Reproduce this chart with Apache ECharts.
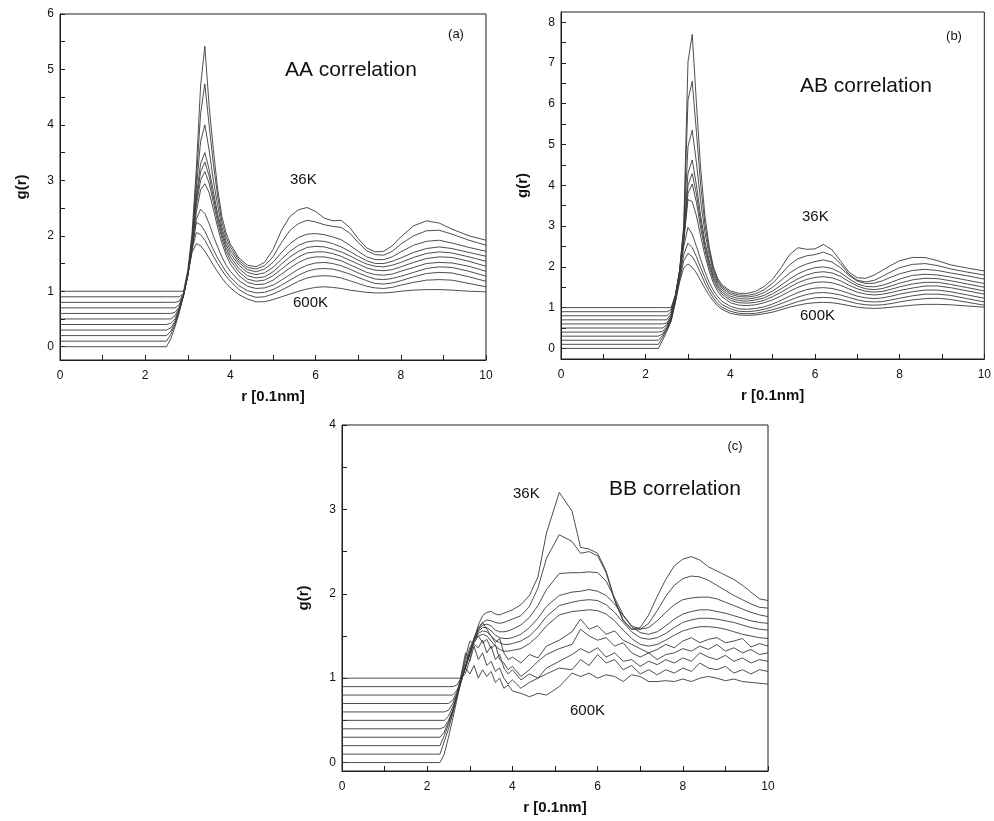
<!DOCTYPE html>
<html>
<head>
<meta charset="utf-8">
<title>Pair correlation functions g(r)</title>
<script src="https://cdn.jsdelivr.net/npm/echarts/dist/echarts.min.js"></script>
<style>
  html, body { margin: 0; padding: 0; background: #fff; }
  #chart { width: 994px; height: 821px; }
</style>
</head>
<body>
<div id="chart"></div>
<script>
// ---- shared tick values ----
const xTickValues = [0, 1, 2, 3, 4, 5, 6, 7, 8, 9, 10];
const xLabelValues = [0, 2, 4, 6, 8, 10];
const aaYTicks = [0, 0.5, 1, 1.5, 2, 2.5, 3, 3.5, 4, 4.5, 5, 5.5, 6];
const aaYLabels = [0, 1, 2, 3, 4, 5, 6];
const abYTicks = [0, 0.5, 1, 1.5, 2, 2.5, 3, 3.5, 4, 4.5, 5, 5.5, 6, 6.5, 7, 7.5, 8];
const abYLabels = [0, 1, 2, 3, 4, 5, 6, 7, 8];
const bbYTicks = [0, 0.5, 1, 1.5, 2, 2.5, 3, 3.5, 4];
const bbYLabels = [0, 1, 2, 3, 4];

// ---- (a) AA correlation: r grid and g(r) curves, 36K (top) ... 600K (bottom), each shifted by 0.1 ----
const aaR = [0, 2.5, 2.6, 2.7, 2.8, 2.9, 3.0, 3.1, 3.2, 3.3, 3.4, 3.5, 3.6, 3.7, 3.8, 3.9, 4.0,
  4.2, 4.4, 4.6, 4.8, 5.0, 5.2, 5.4, 5.6, 5.8, 6.0, 6.2, 6.4, 6.6, 6.8, 7.0, 7.2, 7.4, 7.6, 7.8, 8.0,
  8.3, 8.6, 8.9, 9.2, 9.6, 10.0];
const aa01 = [1.0, 1.0, 1.0, 1.0, 1.0, 1.0, 1.38, 2.05, 3.2, 4.7, 5.42, 4.35, 3.55, 2.85, 2.35, 2.05, 1.85,
  1.6, 1.47, 1.44, 1.52, 1.75, 2.1, 2.35, 2.47, 2.51, 2.44, 2.32, 2.27, 2.28, 2.15, 1.95, 1.78, 1.71, 1.72, 1.82, 1.98,
  2.18, 2.27, 2.23, 2.12, 2.0, 1.92];
const aa02 = [0.9, 0.9, 0.9, 0.9, 0.9, 0.96, 1.32, 1.95, 3.0, 4.2, 4.74, 4.0, 3.3, 2.72, 2.25, 1.97, 1.8,
  1.56, 1.43, 1.40, 1.46, 1.62, 1.88, 2.1, 2.22, 2.28, 2.25, 2.2, 2.17, 2.15, 2.05, 1.88, 1.73, 1.66, 1.65, 1.72, 1.85,
  2.0, 2.09, 2.1, 2.03, 1.92, 1.83];
const aa03 = [0.8, 0.8, 0.8, 0.8, 0.82, 0.96, 1.3, 1.9, 2.85, 3.7, 4.0, 3.55, 3.0, 2.55, 2.15, 1.9, 1.74,
  1.52, 1.39, 1.35, 1.4, 1.52, 1.7, 1.86, 1.97, 2.03, 2.04, 2.02, 1.98, 1.93, 1.83, 1.72, 1.62, 1.57, 1.57, 1.62, 1.71,
  1.83, 1.9, 1.92, 1.87, 1.79, 1.72];
const aa04 = [0.7, 0.7, 0.7, 0.7, 0.76, 0.95, 1.3, 1.88, 2.7, 3.3, 3.5, 3.2, 2.8, 2.4, 2.08, 1.84, 1.68,
  1.47, 1.34, 1.30, 1.33, 1.43, 1.58, 1.72, 1.83, 1.89, 1.91, 1.9, 1.86, 1.8, 1.72, 1.63, 1.55, 1.5, 1.5, 1.54, 1.6,
  1.7, 1.77, 1.8, 1.77, 1.7, 1.63];
const aa05 = [0.6, 0.6, 0.6, 0.62, 0.72, 0.94, 1.3, 1.88, 2.62, 3.15, 3.33, 3.08, 2.7, 2.33, 2.02, 1.78, 1.62,
  1.41, 1.28, 1.24, 1.26, 1.35, 1.49, 1.62, 1.72, 1.79, 1.81, 1.8, 1.76, 1.71, 1.64, 1.56, 1.49, 1.45, 1.44, 1.47, 1.52,
  1.61, 1.68, 1.71, 1.69, 1.62, 1.54];
const aa06 = [0.5, 0.5, 0.5, 0.56, 0.7, 0.93, 1.3, 1.86, 2.55, 3.0, 3.16, 2.95, 2.6, 2.25, 1.95, 1.72, 1.56,
  1.35, 1.22, 1.18, 1.2, 1.28, 1.4, 1.52, 1.62, 1.69, 1.71, 1.71, 1.68, 1.63, 1.56, 1.49, 1.42, 1.38, 1.37, 1.39, 1.44,
  1.52, 1.59, 1.62, 1.61, 1.54, 1.45];
const aa07 = [0.4, 0.4, 0.42, 0.5, 0.68, 0.92, 1.28, 1.82, 2.42, 2.83, 2.94, 2.78, 2.48, 2.15, 1.87, 1.65, 1.49,
  1.28, 1.16, 1.12, 1.13, 1.2, 1.31, 1.42, 1.52, 1.59, 1.62, 1.62, 1.59, 1.55, 1.48, 1.41, 1.34, 1.3, 1.29, 1.31, 1.36,
  1.43, 1.5, 1.52, 1.51, 1.45, 1.36];
const aa08 = [0.3, 0.3, 0.34, 0.46, 0.66, 0.92, 1.27, 1.75, 2.3, 2.48, 2.4, 2.22, 2.0, 1.8, 1.62, 1.47, 1.36,
  1.19, 1.09, 1.05, 1.06, 1.11, 1.2, 1.3, 1.4, 1.47, 1.51, 1.52, 1.5, 1.46, 1.4, 1.33, 1.27, 1.22, 1.21, 1.23, 1.27,
  1.34, 1.41, 1.44, 1.43, 1.36, 1.27];
const aa09 = [0.2, 0.2, 0.28, 0.43, 0.65, 0.93, 1.3, 1.78, 2.24, 2.2, 2.08, 1.92, 1.75, 1.6, 1.47, 1.35, 1.25,
  1.1, 1.01, 0.97, 0.98, 1.03, 1.11, 1.2, 1.29, 1.36, 1.4, 1.41, 1.4, 1.36, 1.31, 1.25, 1.19, 1.14, 1.13, 1.15, 1.19,
  1.26, 1.32, 1.34, 1.33, 1.26, 1.18];
const aa10 = [0.1, 0.1, 0.22, 0.4, 0.64, 0.94, 1.3, 1.75, 2.06, 2.02, 1.92, 1.78, 1.63, 1.5, 1.38, 1.27, 1.18,
  1.03, 0.94, 0.89, 0.9, 0.95, 1.02, 1.1, 1.18, 1.24, 1.27, 1.28, 1.27, 1.24, 1.19, 1.14, 1.09, 1.06, 1.05, 1.07, 1.11,
  1.16, 1.2, 1.21, 1.2, 1.14, 1.08];
const aa11 = [0, 0, 0.14, 0.36, 0.62, 0.94, 1.3, 1.7, 1.86, 1.82, 1.72, 1.6, 1.47, 1.35, 1.24, 1.14, 1.06,
  0.94, 0.86, 0.81, 0.81, 0.85, 0.9, 0.95, 1.0, 1.04, 1.07, 1.08, 1.07, 1.05, 1.02, 1.0, 0.98, 0.97, 0.97, 0.98, 1.0,
  1.02, 1.03, 1.03, 1.02, 1.0, 0.99];

// ---- (b) AB correlation ----
const abR = [0, 2.3, 2.4, 2.5, 2.6, 2.7, 2.8, 2.9, 3.0, 3.1, 3.2, 3.3, 3.4, 3.5, 3.6, 3.7, 3.8,
  4.0, 4.2, 4.4, 4.6, 4.8, 5.0, 5.2, 5.4, 5.6, 5.8, 6.0, 6.2, 6.4, 6.6, 6.8, 7.0, 7.2, 7.4, 7.6, 7.8, 8.0,
  8.3, 8.6, 8.9, 9.2, 9.6, 10.0];
const ab01 = [1.0, 1.0, 1.0, 1.0, 1.0, 1.3, 1.9, 3.0, 7.03, 7.7, 6.0, 4.4, 3.25, 2.5, 2.0, 1.72, 1.56,
  1.41, 1.35, 1.35, 1.4, 1.52, 1.7, 1.98, 2.3, 2.47, 2.43, 2.44, 2.55, 2.42, 2.15, 1.87, 1.73, 1.72, 1.8, 1.92, 2.04, 2.15,
  2.23, 2.23, 2.15, 2.05, 1.97, 1.90];
const ab02 = [0.9, 0.9, 0.9, 0.9, 0.95, 1.3, 1.9, 2.95, 6.09, 6.55, 5.3, 4.0, 3.05, 2.4, 1.95, 1.68, 1.52,
  1.37, 1.31, 1.3, 1.34, 1.44, 1.6, 1.82, 2.05, 2.2, 2.27, 2.3, 2.36, 2.28, 2.08, 1.82, 1.67, 1.63, 1.67, 1.77, 1.88, 1.98,
  2.06, 2.08, 2.03, 1.95, 1.87, 1.8];
const ab03 = [0.8, 0.8, 0.8, 0.8, 0.9, 1.28, 1.88, 2.85, 4.95, 5.35, 4.55, 3.6, 2.85, 2.3, 1.88, 1.63, 1.48,
  1.33, 1.27, 1.26, 1.29, 1.37, 1.5, 1.67, 1.85, 1.98, 2.07, 2.13, 2.17, 2.12, 1.98, 1.79, 1.65, 1.59, 1.6, 1.66, 1.75, 1.83,
  1.91, 1.94, 1.91, 1.85, 1.78, 1.70];
const ab04 = [0.7, 0.7, 0.7, 0.7, 0.85, 1.26, 1.86, 2.75, 4.3, 4.62, 4.0, 3.25, 2.62, 2.15, 1.8, 1.57, 1.43,
  1.28, 1.22, 1.21, 1.24, 1.3, 1.41, 1.55, 1.7, 1.83, 1.92, 1.98, 2.0, 1.96, 1.86, 1.71, 1.58, 1.52, 1.51, 1.55, 1.62, 1.7,
  1.79, 1.82, 1.8, 1.75, 1.67, 1.59];
const ab05 = [0.6, 0.6, 0.6, 0.62, 0.8, 1.24, 1.84, 2.7, 4.0, 4.29, 3.78, 3.1, 2.52, 2.08, 1.74, 1.52, 1.38,
  1.23, 1.17, 1.16, 1.19, 1.24, 1.34, 1.46, 1.59, 1.71, 1.8, 1.86, 1.88, 1.85, 1.77, 1.64, 1.53, 1.46, 1.44, 1.47, 1.53, 1.6,
  1.68, 1.72, 1.71, 1.66, 1.58, 1.5];
const ab06 = [0.5, 0.5, 0.5, 0.58, 0.77, 1.22, 1.82, 2.65, 3.8, 4.03, 3.58, 2.95, 2.42, 2.0, 1.68, 1.47, 1.33,
  1.18, 1.12, 1.11, 1.13, 1.18, 1.27, 1.38, 1.5, 1.61, 1.69, 1.74, 1.76, 1.73, 1.66, 1.55, 1.46, 1.4, 1.38, 1.4, 1.45, 1.51,
  1.58, 1.62, 1.62, 1.57, 1.49, 1.41];
const ab07 = [0.4, 0.4, 0.42, 0.54, 0.75, 1.2, 1.8, 2.62, 3.65, 3.6, 3.25, 2.75, 2.28, 1.9, 1.6, 1.4, 1.27,
  1.12, 1.06, 1.05, 1.07, 1.12, 1.19, 1.29, 1.4, 1.5, 1.57, 1.62, 1.63, 1.61, 1.55, 1.46, 1.38, 1.33, 1.31, 1.33, 1.37, 1.42,
  1.48, 1.53, 1.53, 1.49, 1.41, 1.33];
const ab08 = [0.3, 0.3, 0.36, 0.5, 0.72, 1.18, 1.77, 2.5, 2.97, 2.8, 2.5, 2.18, 1.88, 1.62, 1.42, 1.27, 1.16,
  1.03, 0.97, 0.96, 0.98, 1.02, 1.09, 1.18, 1.28, 1.37, 1.44, 1.48, 1.49, 1.47, 1.42, 1.35, 1.28, 1.24, 1.22, 1.24, 1.28, 1.33,
  1.39, 1.43, 1.43, 1.39, 1.31, 1.23];
const ab09 = [0.2, 0.2, 0.32, 0.48, 0.7, 1.16, 1.72, 2.3, 2.58, 2.47, 2.25, 1.98, 1.73, 1.5, 1.32, 1.18, 1.08,
  0.97, 0.91, 0.9, 0.92, 0.96, 1.02, 1.1, 1.18, 1.26, 1.32, 1.36, 1.37, 1.35, 1.31, 1.25, 1.19, 1.15, 1.14, 1.15, 1.19, 1.23,
  1.29, 1.33, 1.33, 1.3, 1.22, 1.14];
const ab10 = [0.1, 0.1, 0.27, 0.46, 0.68, 1.14, 1.68, 2.15, 2.33, 2.25, 2.07, 1.84, 1.6, 1.4, 1.23, 1.1, 1.01,
  0.91, 0.86, 0.85, 0.86, 0.9, 0.95, 1.01, 1.08, 1.15, 1.2, 1.24, 1.25, 1.24, 1.2, 1.15, 1.1, 1.07, 1.06, 1.07, 1.1, 1.14,
  1.19, 1.22, 1.23, 1.2, 1.13, 1.06];
const ab11 = [0, 0, 0.2, 0.42, 0.66, 1.12, 1.62, 1.98, 2.07, 1.99, 1.85, 1.66, 1.47, 1.3, 1.16, 1.04, 0.96,
  0.86, 0.82, 0.81, 0.82, 0.85, 0.89, 0.95, 1.01, 1.06, 1.1, 1.12, 1.13, 1.12, 1.09, 1.05, 1.01, 0.99, 0.98, 0.99, 1.01, 1.03,
  1.06, 1.08, 1.08, 1.07, 1.04, 1.01];

// ---- (c) BB correlation ----
const bbR = [0, 2.3, 2.4, 2.5, 2.6, 2.7, 2.8, 2.9, 3.0, 3.1, 3.2, 3.3, 3.4, 3.5, 3.6, 3.7, 3.8, 3.9, 4.0,
  4.2, 4.4, 4.6, 4.8, 5.1, 5.4, 5.6, 5.8, 6.0,
  6.2, 6.4, 6.6, 6.8, 7.0, 7.2, 7.4, 7.6, 7.8, 8.0, 8.2, 8.4, 8.6, 8.8, 9.0, 9.2, 9.4, 9.6, 9.8, 10.0];
const bb01 = [1.0, 1.0, 1.0, 1.0, 1.0, 1.0, 1.0, 1.06, 1.22, 1.45, 1.63, 1.74, 1.78, 1.79, 1.76, 1.75, 1.77, 1.79, 1.81,
  1.87, 1.98, 2.2, 2.72, 3.2, 2.98, 2.55, 2.53, 2.48,
  2.27, 1.93, 1.69, 1.58, 1.6, 1.75, 1.97, 2.17, 2.33, 2.41, 2.44, 2.4, 2.32, 2.27, 2.22, 2.17, 2.1, 2.02, 1.94, 1.92];
const bb02 = [0.9, 0.9, 0.9, 0.9, 0.9, 0.92, 1.0, 1.12, 1.28, 1.45, 1.58, 1.66, 1.69, 1.68, 1.66, 1.65, 1.66, 1.68, 1.7,
  1.74, 1.85, 2.07, 2.42, 2.7, 2.62, 2.48, 2.5, 2.45,
  2.25, 1.92, 1.68, 1.58, 1.58, 1.65, 1.8, 1.97, 2.1, 2.18, 2.21, 2.2, 2.16, 2.1, 2.04, 1.98, 1.93, 1.88, 1.84, 1.83];
const bb03 = [0.8, 0.8, 0.8, 0.8, 0.8, 0.86, 0.98, 1.13, 1.3, 1.46, 1.57, 1.63, 1.64, 1.62, 1.57, 1.55, 1.55, 1.56, 1.58,
  1.63, 1.72, 1.86, 2.05, 2.24, 2.25, 2.25, 2.26, 2.25,
  2.15, 1.95, 1.75, 1.62, 1.58, 1.6, 1.68, 1.78, 1.87, 1.93, 1.95, 1.96, 1.96, 1.94, 1.9, 1.86, 1.82, 1.78, 1.75, 1.73];
const bb04 = [0.7, 0.7, 0.7, 0.7, 0.74, 0.84, 0.97, 1.13, 1.3, 1.45, 1.55, 1.6, 1.6, 1.56, 1.51, 1.48, 1.47, 1.47, 1.48,
  1.52, 1.6, 1.71, 1.85, 1.98, 2.02, 2.03, 2.05, 2.03,
  1.98, 1.88, 1.74, 1.61, 1.54, 1.52, 1.55, 1.62, 1.7, 1.76, 1.79, 1.81, 1.81, 1.79, 1.77, 1.74, 1.71, 1.68, 1.66, 1.65];
const bb05 = [0.6, 0.6, 0.6, 0.62, 0.7, 0.82, 0.97, 1.13, 1.3, 1.44, 1.53, 1.56, 1.55, 1.5, 1.45, 1.42, 1.4, 1.4, 1.41,
  1.44, 1.5, 1.6, 1.73, 1.86, 1.9, 1.92, 1.93, 1.92,
  1.87, 1.78, 1.66, 1.55, 1.48, 1.46, 1.48, 1.53, 1.6, 1.66, 1.69, 1.71, 1.71, 1.7, 1.68, 1.66, 1.63, 1.6, 1.58, 1.57];
const bb06 = [0.5, 0.5, 0.5, 0.55, 0.66, 0.8, 0.97, 1.14, 1.3, 1.42, 1.5, 1.52, 1.5, 1.44, 1.38, 1.34, 1.32, 1.32, 1.33,
  1.35, 1.41, 1.5, 1.62, 1.75, 1.79, 1.8, 1.81, 1.8,
  1.76, 1.68, 1.57, 1.47, 1.4, 1.38, 1.4, 1.45, 1.51, 1.56, 1.59, 1.61, 1.61, 1.6, 1.58, 1.55, 1.52, 1.5, 1.48, 1.47];
const bb07 = [0.4, 0.4, 0.42, 0.5, 0.62, 0.78, 0.96, 1.15, 1.32, 1.48, 1.6, 1.66, 1.58, 1.5, 1.42, 1.47, 1.3, 1.22, 1.25,
  1.18, 1.28, 1.24, 1.38, 1.45, 1.55, 1.7, 1.58, 1.62,
  1.52, 1.56, 1.45, 1.4, 1.35, 1.3, 1.34, 1.4, 1.36, 1.44, 1.48, 1.42, 1.46, 1.48, 1.42, 1.44, 1.47, 1.37, 1.41, 1.38];
const bb08 = [0.3, 0.3, 0.36, 0.48, 0.62, 0.8, 1.0, 1.2, 1.36, 1.45, 1.5, 1.42, 1.46, 1.35, 1.4, 1.22, 1.18, 1.1, 1.14,
  1.02, 1.1, 1.2, 1.28, 1.35, 1.4, 1.58, 1.5, 1.45,
  1.48, 1.38, 1.42, 1.3, 1.25, 1.3, 1.22, 1.28, 1.3, 1.35, 1.32, 1.38, 1.34, 1.4, 1.32, 1.36, 1.3, 1.34, 1.28, 1.3];
const bb09 = [0.2, 0.2, 0.32, 0.45, 0.6, 0.8, 1.02, 1.25, 1.44, 1.4, 1.36, 1.45, 1.3, 1.38, 1.22, 1.28, 1.12, 1.05, 1.1,
  0.98, 1.05, 1.0, 1.12, 1.2, 1.28, 1.35, 1.3, 1.36,
  1.25, 1.3, 1.2, 1.22, 1.14, 1.2, 1.16, 1.22, 1.18, 1.24, 1.2, 1.3, 1.25, 1.22, 1.27, 1.2, 1.24, 1.18, 1.22, 1.2];
const bb10 = [0.1, 0.1, 0.25, 0.4, 0.58, 0.8, 1.05, 1.3, 1.2, 1.38, 1.22, 1.3, 1.15, 1.2, 1.08, 1.12, 1.0, 0.93, 0.98,
  0.88, 0.95, 1.0, 1.05, 1.12, 1.1, 1.22, 1.15, 1.28,
  1.18, 1.22, 1.1, 1.15, 1.05, 1.1, 1.04, 1.1, 1.06, 1.12, 1.08, 1.18, 1.12, 1.1, 1.14, 1.06, 1.1, 1.05, 1.1, 1.08];
const bb11 = [0, 0, 0.1, 0.3, 0.52, 0.75, 0.98, 1.12, 1.05, 1.15, 1.0, 1.1, 1.02, 1.08, 0.95, 1.0, 0.88, 0.92, 0.85,
  0.82, 0.78, 0.82, 0.8, 0.9, 1.06, 1.02, 1.06, 1.0,
  1.04, 1.02, 0.96, 1.04, 1.02, 0.96, 0.96, 0.97, 0.96, 0.99, 0.96, 1.0, 1.02, 1.0, 0.97, 0.99, 0.96, 0.95, 0.94, 0.93];

const aaCurves = [aa01, aa02, aa03, aa04, aa05, aa06, aa07, aa08, aa09, aa10, aa11];
const abCurves = [ab01, ab02, ab03, ab04, ab05, ab06, ab07, ab08, ab09, ab10, ab11];
const bbCurves = [bb01, bb02, bb03, bb04, bb05, bb06, bb07, bb08, bb09, bb10, bb11];

// ---- layout and styling ----
const FONT = '"Liberation Sans", Arial, Helvetica, sans-serif';
const INK = '#1e1e1e';
const CURVE = '#3a3a3a';

const panels = [
  { key: 'AA', r: aaR, curves: aaCurves, yMin: -0.24, yMax: 6, yTicks: aaYTicks, yLabels: aaYLabels,
    grid: { left: 60, top: 14, width: 426, height: 346 } },
  { key: 'AB', r: abR, curves: abCurves, yMin: -0.26, yMax: 8.25, yTicks: abYTicks, yLabels: abYLabels,
    grid: { left: 561, top: 12, width: 426, height: 347 } },
  { key: 'BB', r: bbR, curves: bbCurves, yMin: -0.1, yMax: 4, yTicks: bbYTicks, yLabels: bbYLabels,
    grid: { left: 342, top: 425, width: 426, height: 346 } }
];

const grids = [], xAxes = [], yAxes = [], series = [];
panels.forEach((p, gi) => {
  grids.push(Object.assign({ show: true, borderColor: INK, borderWidth: 1, backgroundColor: 'transparent' }, p.grid));
  xAxes.push({
    type: 'value', gridIndex: gi, min: 0, max: 10, interval: 1,
    axisLine: { onZero: false, lineStyle: { color: INK, width: 1 } },
    axisTick: { inside: true, length: 5, customValues: xTickValues, lineStyle: { color: INK, width: 1 } },
    axisLabel: { customValues: xLabelValues, color: '#111', fontSize: 12, fontFamily: FONT, margin: 10 },
    splitLine: { show: false },
    name: 'r [0.1nm]', nameLocation: 'middle', nameGap: 29,
    nameTextStyle: { color: '#111', fontSize: 15, fontWeight: 'bold', fontFamily: FONT }
  });
  yAxes.push({
    type: 'value', gridIndex: gi, min: p.yMin, max: p.yMax,
    axisLine: { onZero: false, lineStyle: { color: INK, width: 1 } },
    axisTick: { inside: true, length: 5, customValues: p.yTicks, lineStyle: { color: INK, width: 1 } },
    axisLabel: { customValues: p.yLabels, color: '#111', fontSize: 12, fontFamily: FONT, margin: 6 },
    splitLine: { show: false },
    name: 'g(r)', nameLocation: 'middle', nameGap: 31, nameRotate: 90,
    nameTextStyle: { color: '#111', fontSize: 15, fontWeight: 'bold', fontFamily: FONT }
  });
  p.curves.forEach((vals, ci) => {
    series.push({
      name: p.key + ' ' + (ci + 1),
      type: 'line', xAxisIndex: gi, yAxisIndex: gi,
      data: p.r.map((x, k) => [x, vals[k]]),
      symbol: 'none', showSymbol: false, silent: true, clip: true,
      lineStyle: { color: CURVE, width: 0.9 }
    });
  });
});

// annotations
function note(text, x, y, size, align) {
  return {
    type: 'text', x: x, y: y, silent: true,
    style: { text: text, fill: '#111', font: size + 'px ' + FONT, align: align || 'left', verticalAlign: 'middle' }
  };
}
const notes = [
  note('(a)', 456, 34, 13, 'center'),
  note('AA correlation', 285, 70, 21),
  note('36K', 290, 180, 15),
  note('600K', 293, 303, 15),
  note('(b)', 954, 36, 13, 'center'),
  note('AB correlation', 800, 86, 21),
  note('36K', 802, 217, 15),
  note('600K', 800, 316, 15),
  note('(c)', 735, 446, 13, 'center'),
  note('BB correlation', 609, 489, 21),
  note('36K', 513, 494, 15),
  note('600K', 570, 711, 15)
];

const chart = echarts.init(document.getElementById('chart'), null, { renderer: 'canvas' });
chart.setOption({
  animation: false,
  backgroundColor: '#ffffff',
  grid: grids,
  xAxis: xAxes,
  yAxis: yAxes,
  series: series,
  graphic: notes
});
</script>
</body>
</html>
